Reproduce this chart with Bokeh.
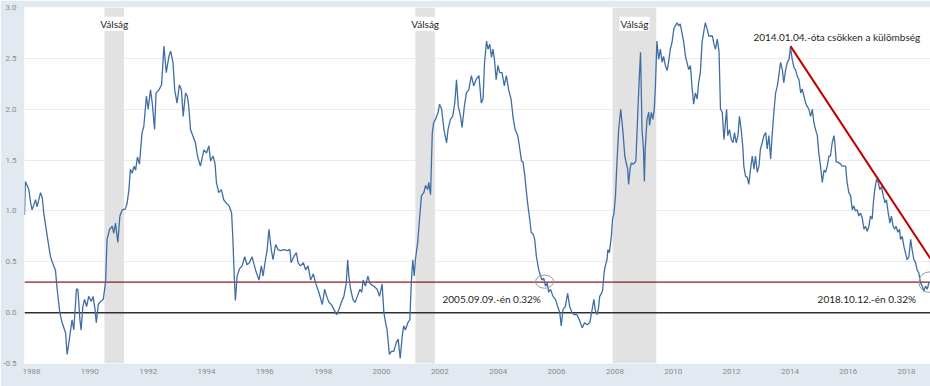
from bokeh.plotting import figure
from bokeh.models import Range1d, FixedTicker, PrintfTickFormatter, BoxAnnotation, Span, Label
from bokeh.embed import file_html
from bokeh.resources import INLINE

# ---- data (10Y-2Y spread, % points) ----
dates = [
    1987.76, 1987.79, 1987.91, 1987.97, 1988.02, 1988.14, 1988.19, 1988.31, 1988.37, 1988.42,
    1988.54, 1988.65, 1988.76, 1988.82, 1988.88, 1988.97, 1989.05, 1989.17, 1989.22, 1989.28,
    1989.39, 1989.45, 1989.54, 1989.59, 1989.66, 1989.70, 1989.76, 1989.82, 1989.89, 1989.96,
    1990.05, 1990.11, 1990.18, 1990.22, 1990.29, 1990.37, 1990.46, 1990.54, 1990.59, 1990.68,
    1990.77, 1990.82, 1990.88, 1990.96, 1991.03, 1991.11, 1991.22, 1991.28, 1991.34, 1991.39,
    1991.45, 1991.52, 1991.57, 1991.63, 1991.70, 1991.79, 1991.85, 1991.94, 1992.00, 1992.08,
    1992.14, 1992.22, 1992.27, 1992.37, 1992.46, 1992.54, 1992.62, 1992.71, 1992.77, 1992.85,
    1992.91, 1992.99, 1993.07, 1993.14, 1993.20, 1993.28, 1993.34, 1993.39, 1993.45, 1993.53,
    1993.62, 1993.69, 1993.79, 1993.91, 1994.00, 1994.08, 1994.14, 1994.22, 1994.29, 1994.34,
    1994.42, 1994.51, 1994.59, 1994.67, 1994.77, 1994.86, 1994.90, 1994.95, 1994.99, 1995.05,
    1995.13, 1995.22, 1995.31, 1995.39, 1995.47, 1995.56, 1995.68, 1995.80, 1995.88, 1995.94,
    1996.02, 1996.08, 1996.14, 1996.22, 1996.28, 1996.37, 1996.45, 1996.54, 1996.65, 1996.77,
    1996.86, 1996.90, 1996.99, 1997.08, 1997.14, 1997.22, 1997.32, 1997.40, 1997.48, 1997.57,
    1997.66, 1997.74, 1997.85, 1997.97, 1998.05, 1998.12, 1998.20, 1998.28, 1998.37, 1998.46,
    1998.54, 1998.62, 1998.71, 1998.79, 1998.84, 1998.88, 1998.94, 1999.02, 1999.09, 1999.17,
    1999.26, 1999.32, 1999.37, 1999.45, 1999.53, 1999.60, 1999.68, 1999.74, 1999.85, 1999.93,
    2000.02, 2000.08, 2000.14, 2000.19, 2000.27, 2000.34, 2000.42, 2000.50, 2000.57, 2000.64,
    2000.71, 2000.76, 2000.82, 2000.90, 2000.97, 2001.02, 2001.07, 2001.12, 2001.16, 2001.24,
    2001.31, 2001.37, 2001.45, 2001.51, 2001.58, 2001.62, 2001.68, 2001.74, 2001.79, 2001.85,
    2001.94, 2001.99, 2002.06, 2002.14, 2002.23, 2002.28, 2002.36, 2002.44, 2002.51, 2002.57,
    2002.63, 2002.71, 2002.76, 2002.84, 2002.91, 2002.99, 2003.08, 2003.16, 2003.24, 2003.34,
    2003.42, 2003.48, 2003.53, 2003.60, 2003.65, 2003.71, 2003.77, 2003.82, 2003.87, 2003.93,
    2003.99, 2004.05, 2004.13, 2004.21, 2004.28, 2004.36, 2004.44, 2004.51, 2004.58, 2004.67,
    2004.74, 2004.80, 2004.85, 2004.91, 2004.97, 2005.02, 2005.08, 2005.13, 2005.20, 2005.25,
    2005.31, 2005.39, 2005.45, 2005.50, 2005.56, 2005.62, 2005.68, 2005.73, 2005.79, 2005.88,
    2005.96, 2006.04, 2006.11, 2006.16, 2006.22, 2006.30, 2006.38, 2006.45, 2006.53, 2006.61,
    2006.70, 2006.78, 2006.88, 2006.96, 2007.05, 2007.14, 2007.22, 2007.28, 2007.33, 2007.39,
    2007.44, 2007.48, 2007.54, 2007.58, 2007.63, 2007.67, 2007.73, 2007.76, 2007.81, 2007.88,
    2007.92, 2007.97, 2008.02, 2008.07, 2008.13, 2008.20, 2008.27, 2008.34, 2008.39, 2008.44,
    2008.47, 2008.52, 2008.56, 2008.64, 2008.72, 2008.79, 2008.84, 2008.88, 2008.93, 2008.98,
    2009.01, 2009.04, 2009.10, 2009.16, 2009.19, 2009.25, 2009.30, 2009.35, 2009.39, 2009.44,
    2009.50, 2009.56, 2009.62, 2009.67, 2009.73, 2009.79, 2009.84, 2009.90, 2009.96, 2010.02,
    2010.07, 2010.13, 2010.19, 2010.24, 2010.30, 2010.36, 2010.42, 2010.47, 2010.53, 2010.59,
    2010.64, 2010.70, 2010.76, 2010.82, 2010.87, 2010.93, 2010.99, 2011.04, 2011.10, 2011.16,
    2011.22, 2011.28, 2011.34, 2011.39, 2011.45, 2011.51, 2011.57, 2011.62, 2011.68, 2011.74,
    2011.79, 2011.83, 2011.87, 2011.93, 2011.99, 2012.05, 2012.10, 2012.16, 2012.22, 2012.27,
    2012.33, 2012.39, 2012.42, 2012.48, 2012.54, 2012.59, 2012.65, 2012.71, 2012.77, 2012.82,
    2012.88, 2012.94, 2012.99, 2013.05, 2013.11, 2013.17, 2013.22, 2013.28, 2013.34, 2013.39,
    2013.45, 2013.51, 2013.57, 2013.62, 2013.68, 2013.74, 2013.79, 2013.85, 2013.91, 2013.97,
    2014.02, 2014.08, 2014.14, 2014.19, 2014.25, 2014.31, 2014.37, 2014.42, 2014.48, 2014.54,
    2014.59, 2014.65, 2014.71, 2014.77, 2014.82, 2014.88, 2014.94, 2014.99, 2015.05, 2015.11,
    2015.17, 2015.22, 2015.28, 2015.34, 2015.39, 2015.45, 2015.51, 2015.54, 2015.59, 2015.64,
    2015.74, 2015.79, 2015.85, 2015.91, 2015.96, 2016.02, 2016.08, 2016.14, 2016.19, 2016.25,
    2016.31, 2016.36, 2016.42, 2016.48, 2016.54, 2016.59, 2016.65, 2016.71, 2016.76, 2016.82,
    2016.86, 2016.91, 2016.97, 2017.03, 2017.08, 2017.14, 2017.20, 2017.26, 2017.31, 2017.37,
    2017.43, 2017.48, 2017.54, 2017.59, 2017.64, 2017.70, 2017.76, 2017.79, 2017.85, 2017.91,
    2017.96, 2018.02, 2018.08, 2018.14, 2018.19, 2018.25, 2018.31, 2018.36, 2018.42, 2018.48,
    2018.54, 2018.59, 2018.65, 2018.71, 2018.76, 2018.78,
]
spread = [
    0.96, 1.29, 1.21, 1.08, 1.01, 1.11, 1.04, 1.18, 1.13, 0.98,
    0.75, 0.55, 0.46, 0.42, 0.23, 0.00, -0.10, -0.20, -0.41, -0.30,
    -0.07, -0.17, 0.23, 0.23, -0.07, -0.17, 0.06, 0.13, 0.06, 0.16,
    0.11, 0.16, 0.03, -0.10, 0.08, 0.11, 0.13, 0.30, 0.72, 0.82,
    0.85, 0.78, 0.88, 0.69, 0.95, 1.01, 1.02, 1.08, 1.21, 1.41,
    1.37, 1.44, 1.40, 1.53, 1.46, 1.77, 1.83, 2.13, 2.00, 2.19,
    2.06, 1.80, 2.16, 2.19, 2.24, 2.62, 2.36, 2.52, 2.57, 2.46,
    2.19, 2.06, 2.24, 2.19, 1.93, 2.16, 2.13, 2.03, 1.80, 1.74,
    1.67, 1.54, 1.44, 1.60, 1.57, 1.64, 1.49, 1.54, 1.47, 1.28,
    1.18, 1.21, 1.11, 1.08, 1.05, 0.98, 0.75, 0.36, 0.12, 0.36,
    0.43, 0.46, 0.55, 0.47, 0.49, 0.55, 0.42, 0.32, 0.46, 0.36,
    0.52, 0.62, 0.82, 0.62, 0.52, 0.67, 0.62, 0.61, 0.62, 0.61,
    0.62, 0.49, 0.55, 0.59, 0.49, 0.46, 0.49, 0.42, 0.46, 0.32,
    0.38, 0.29, 0.20, 0.08, 0.23, 0.16, 0.10, 0.08, 0.03, -0.02,
    0.03, 0.10, 0.16, 0.29, 0.52, 0.36, 0.23, 0.13, 0.10, 0.16,
    0.23, 0.20, 0.32, 0.26, 0.36, 0.29, 0.27, 0.26, 0.23, 0.16,
    0.28, 0.00, -0.10, -0.17, -0.41, -0.38, -0.38, -0.30, -0.26, -0.45,
    -0.23, -0.13, -0.17, -0.10, -0.07, 0.29, 0.52, 0.36, 0.52, 0.69,
    0.95, 1.15, 1.18, 1.25, 1.21, 1.28, 1.16, 1.77, 1.87, 1.90,
    1.97, 2.05, 2.00, 1.80, 1.67, 1.80, 1.90, 1.93, 2.06, 2.29,
    2.03, 1.93, 1.82, 2.03, 2.16, 2.19, 2.33, 2.23, 2.29, 2.33,
    2.06, 2.10, 2.45, 2.67, 2.59, 2.64, 2.51, 2.59, 2.49, 2.29,
    2.43, 2.36, 2.36, 2.23, 2.33, 2.19, 2.10, 1.92, 1.80, 1.74,
    1.61, 1.49, 1.48, 1.35, 1.18, 1.05, 0.92, 0.79, 0.77, 0.72,
    0.55, 0.42, 0.36, 0.32, 0.34, 0.26, 0.29, 0.20, 0.23, 0.16,
    0.13, 0.06, 0.00, -0.13, 0.03, 0.06, 0.19, 0.06, 0.00, -0.02,
    -0.02, -0.07, -0.15, -0.10, -0.12, -0.10, 0.03, 0.13, 0.02, -0.02,
    0.05, 0.16, 0.19, 0.22, 0.39, 0.46, 0.52, 0.62, 0.59, 0.75,
    0.92, 0.98, 1.15, 1.47, 1.80, 2.00, 1.80, 1.54, 1.47, 1.41,
    1.26, 1.41, 1.47, 1.46, 1.49, 2.00, 2.33, 2.56, 1.80, 1.61,
    1.29, 1.61, 1.90, 1.97, 1.84, 1.97, 1.90, 2.00, 2.23, 2.67,
    2.49, 2.59, 2.46, 2.52, 2.43, 2.38, 2.46, 2.59, 2.66, 2.79,
    2.82, 2.85, 2.82, 2.84, 2.75, 2.66, 2.52, 2.46, 2.39, 2.43,
    2.23, 2.05, 2.16, 2.10, 2.26, 2.36, 2.66, 2.75, 2.85, 2.79,
    2.72, 2.72, 2.72, 2.65, 2.59, 2.69, 2.57, 2.00, 1.97, 1.70,
    1.87, 2.00, 1.74, 1.80, 1.70, 1.67, 1.77, 1.67, 1.74, 1.93,
    1.80, 1.61, 1.44, 1.34, 1.33, 1.26, 1.41, 1.54, 1.41, 1.54,
    1.38, 1.44, 1.61, 1.67, 1.74, 1.77, 1.61, 1.74, 1.51, 1.74,
    1.97, 2.16, 2.23, 2.33, 2.46, 2.39, 2.26, 2.38, 2.46, 2.49,
    2.61, 2.49, 2.41, 2.39, 2.33, 2.29, 2.16, 2.20, 2.13, 2.06,
    2.03, 2.00, 1.93, 2.00, 1.87, 1.80, 1.74, 1.57, 1.44, 1.28,
    1.40, 1.38, 1.44, 1.54, 1.54, 1.67, 1.74, 1.67, 1.48, 1.48,
    1.46, 1.44, 1.44, 1.44, 1.28, 1.18, 1.15, 1.01, 1.05, 1.00,
    1.01, 0.95, 0.98, 0.93, 0.82, 0.85, 0.80, 0.85, 0.95, 0.92,
    1.08, 1.21, 1.31, 1.28, 1.21, 1.24, 1.15, 1.08, 1.11, 0.98,
    0.88, 0.95, 0.85, 0.82, 0.85, 0.79, 0.82, 0.72, 0.75, 0.65,
    0.59, 0.52, 0.55, 0.72, 0.62, 0.52, 0.49, 0.42, 0.39, 0.29,
    0.26, 0.21, 0.26, 0.23, 0.29, 0.30,
]

# recessions ("Válság") as decimal years
rec_start = [1990.50, 2001.16, 2007.92]
rec_end = [1991.17, 2001.83, 2009.42]

# reference levels
zero_level = 0.0
threshold = 0.30

# trend line since 2014.01.04
trend_x = [2014.02, 2018.82]
trend_y = [2.62, 0.53]

# marked points (0.32%)
circle_x = [2005.59, 2018.77]
circle_y = [0.305, 0.30]

x_ticks = list(range(1988, 2019, 2))
y_ticks = [-0.5, 0.0, 0.5, 1.0, 1.5, 2.0, 2.5, 3.0]

label_valsag = "Válság"
label_trend = "2014.01.04.-óta csökken a külömbség"
label_2005 = "2005.09.09.-én 0.32%"
label_2018 = "2018.10.12.-én 0.32%"

# ---- figure ----
p = figure(width=930, height=386, output_backend="svg", toolbar_location=None,
           x_range=Range1d(1987.76, 2018.82), y_range=Range1d(-0.5, 3.0),
           min_border_left=24, min_border_right=0, min_border_top=7,
           min_border_bottom=23)
p.background_fill_color = "white"
p.border_fill_color = "#e2e9f0"
p.outline_line_color = None

p.xgrid.grid_line_color = None
p.ygrid.ticker = FixedTicker(ticks=y_ticks)
p.ygrid.grid_line_color = "#ebebeb"
p.ygrid.grid_line_width = 1

for ax in (p.xaxis[0], p.yaxis[0]):
    ax.axis_line_color = None
    ax.major_tick_line_color = None
    ax.minor_tick_line_color = None
    ax.major_tick_in = 0
    ax.major_tick_out = 0
    ax.major_label_text_font = "Roboto"
    ax.major_label_text_font_size = "8px"
    ax.major_label_text_color = "#8c8c8c"

p.xaxis.ticker = FixedTicker(ticks=x_ticks)
p.xaxis.formatter = PrintfTickFormatter(format="%d")
p.xaxis.major_label_standoff = 5
p.yaxis.ticker = FixedTicker(ticks=y_ticks)
p.yaxis.formatter = PrintfTickFormatter(format="%.1f")
p.yaxis.major_label_standoff = 8

# recession bands
for s, e in zip(rec_start, rec_end):
    p.add_layout(BoxAnnotation(left=s, right=e, fill_color="#e2e2e2", fill_alpha=1.0,
                               line_alpha=0, level="underlay"))

# horizontal levels
p.add_layout(Span(location=zero_level, dimension="width", line_color="#303030",
                  line_width=1.5, level="underlay"))
p.add_layout(Span(location=threshold, dimension="width", line_color="#8e1b1b",
                  line_width=1.2, level="underlay"))

# series
p.line(dates, spread, line_color="#3f6ea6", line_width=1.3)

# trend line
p.line(trend_x, trend_y, line_color="#c00000", line_width=2)

# circles around marked points
p.ellipse(x=circle_x, y=circle_y, width=[0.62, 0.70], height=[0.13, 0.20],
          fill_alpha=0, line_color="#9a9a9a", line_width=1)

# labels
for s, e in zip(rec_start, rec_end):
    p.add_layout(Label(x=(s + e) / 2, y=2.84, text=label_valsag, text_font="Lato",
                       text_font_size="10px", text_color="#262626",
                       text_align="center", text_baseline="middle",
                       background_fill_color="white", background_fill_alpha=1.0,
                       padding=1))

p.add_layout(Label(x=2012.75, y=2.71, text=label_trend, text_font="Lato",
                   text_font_size="10px", text_color="#262626",
                   text_align="left", text_baseline="middle"))
p.add_layout(Label(x=2002.09, y=0.13, text=label_2005, text_font="Lato",
                   text_font_size="10px", text_color="#262626",
                   text_align="left", text_baseline="middle"))
p.add_layout(Label(x=2014.95, y=0.13, text=label_2018, text_font="Lato",
                   text_font_size="10px", text_color="#262626",
                   text_align="left", text_baseline="middle"))

open("out.html", "w").write(file_html(p, INLINE))
